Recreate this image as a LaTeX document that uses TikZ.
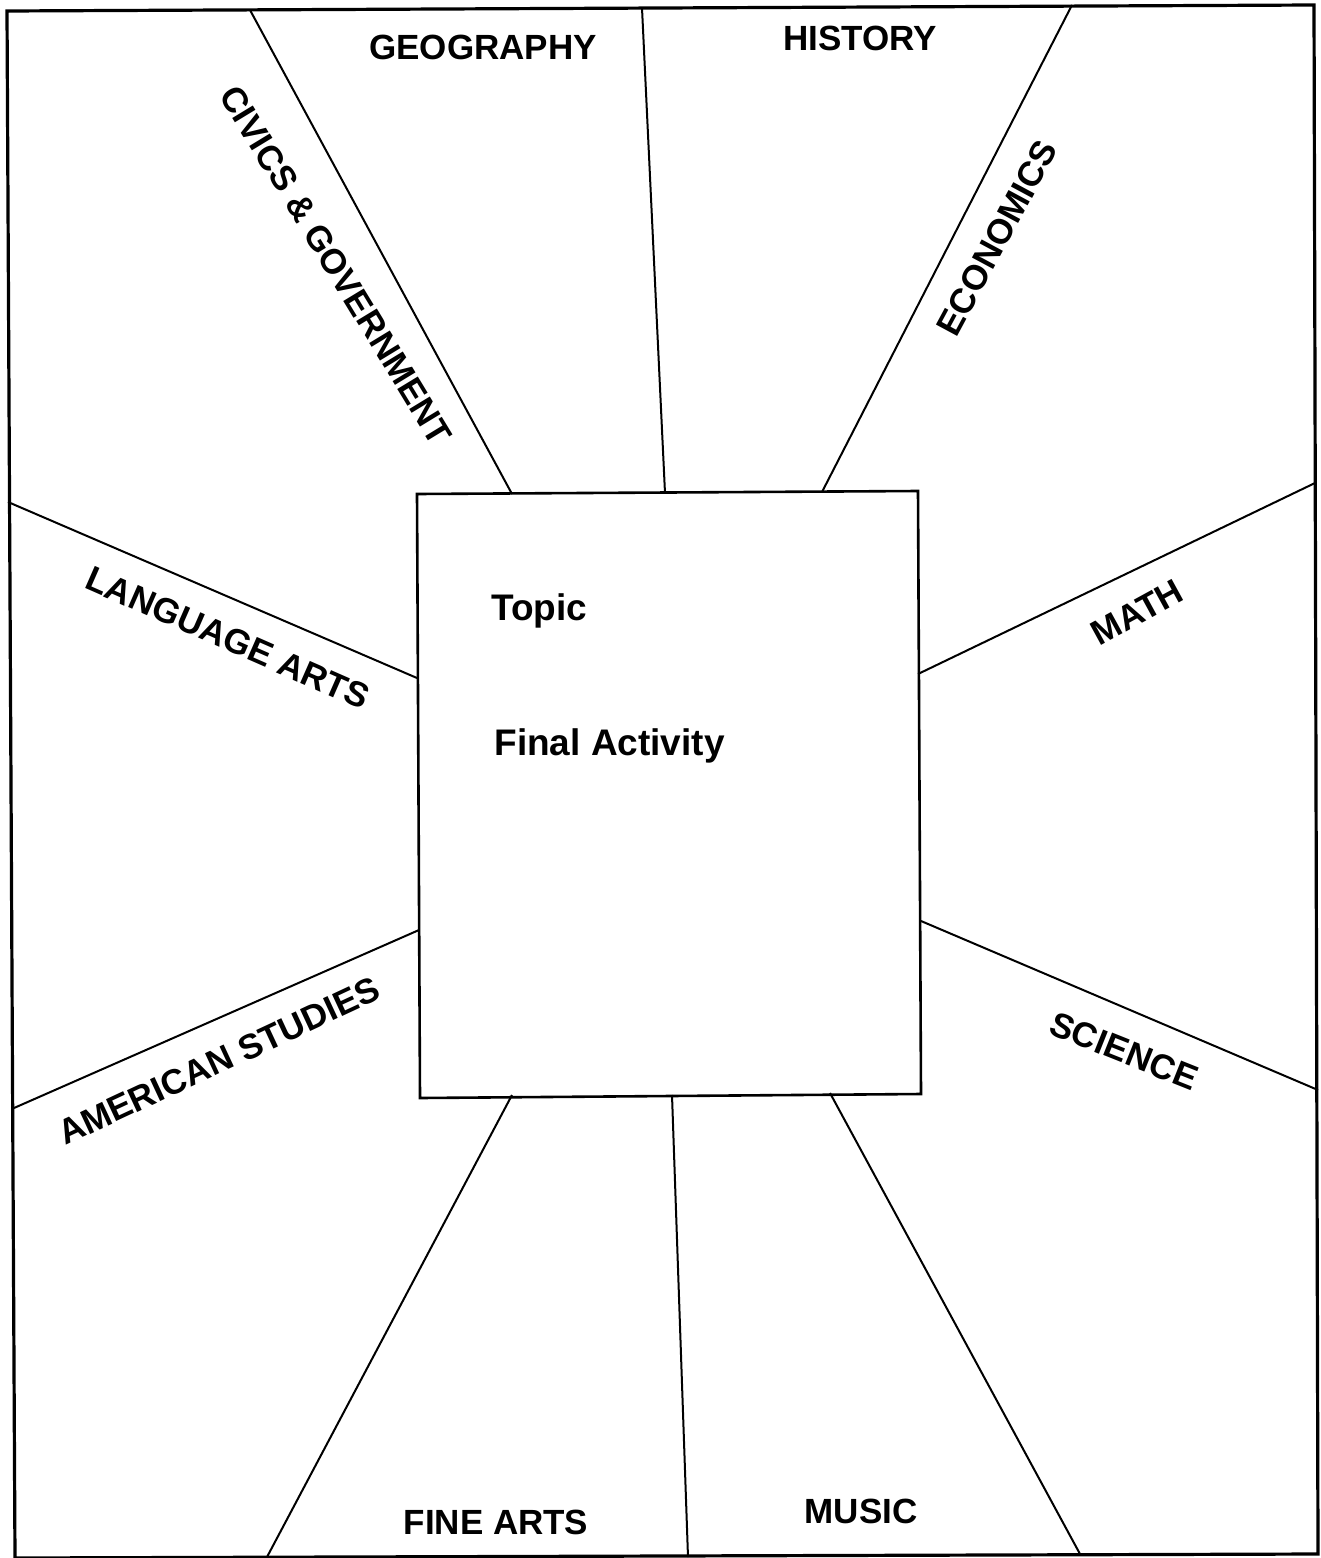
\documentclass[tikz,border=0pt]{standalone}
\usepackage{fontspec}
\setmainfont{Liberation Sans}
\begin{document}
\begin{tikzpicture}[x=0.5pt,y=-0.5pt,
  lbl/.style={font=\fontsize{17.5}{20}\selectfont\bfseries, inner sep=0pt},
  ctext/.style={font=\fontsize{18.5}{22}\selectfont\bfseries, inner sep=0pt, anchor=west},
  spoke/.style={line width=1pt},
  frame/.style={line width=1.6pt},
  boxs/.style={line width=1.3pt}]
\useasboundingbox (0,0) rectangle (1321,1558);
% outer frame
\coordinate (f1) at (7,11);
\coordinate (f2) at (1314,5);
\coordinate (f3) at (1318,1554);
\coordinate (f4) at (15,1558);
\draw[frame] (f1) -- (f2) -- (f3) -- (f4) -- cycle;
% center box
\coordinate (b1) at (417,494);
\coordinate (b2) at (918,491);
\coordinate (b3) at (921,1094);
\coordinate (b4) at (420,1098);
\draw[boxs] (b1) -- (b2) -- (b3) -- (b4) -- cycle;
% spoke end points
\coordinate (t1) at (250,10);   \coordinate (s1) at (512,494);
\coordinate (t2) at (642,8);    \coordinate (s2) at (665,493);
\coordinate (t3) at (1072,5);   \coordinate (s3) at (822,492);
\coordinate (l1) at (8,502);    \coordinate (s4) at (417,678);
\coordinate (r1) at (1315,483); \coordinate (s5) at (918,674);
\coordinate (l2) at (14,1108);  \coordinate (s6) at (419,930);
\coordinate (r2) at (1318,1090);\coordinate (s7) at (921,921);
\coordinate (d1) at (267,1557); \coordinate (s8) at (512,1095);
\coordinate (d2) at (688,1557); \coordinate (s9) at (672,1095);
\coordinate (d3) at (1080,1554);\coordinate (s10) at (830,1093);
\draw[spoke] (t1) -- (s1);
\draw[spoke] (t2) -- (s2);
\draw[spoke] (t3) -- (s3);
\draw[spoke] (l1) -- (s4);
\draw[spoke] (r1) -- (s5);
\draw[spoke] (l2) -- (s6);
\draw[spoke] (r2) -- (s7);
\draw[spoke] (d1) -- (s8);
\draw[spoke] (d2) -- (s9);
\draw[spoke] (d3) -- (s10);
% labels
\node[lbl] (geo) at (483,47) {GEOGRAPHY};
\node[lbl] (his) at (860,38) {HISTORY};
\node[lbl, rotate=-58.7] (civ) at (336,265) {CIVICS \& GOVERNMENT};
\node[lbl, rotate=61.7] (eco) at (997,238) {ECONOMICS};
\node[lbl, rotate=-23.7] (lang) at (228,638) {LANGUAGE ARTS};
\node[lbl, rotate=28.7] (math) at (1137,612) {MATH};
\node[lbl, rotate=25] (amer) at (219,1061) {AMERICAN STUDIES};
\node[lbl, rotate=-21.8] (sci) at (1124,1051) {SCIENCE};
\node[lbl] (fine) at (496,1522) {FINE ARTS};
\node[lbl] (mus) at (861,1511) {MUSIC};
\node[ctext] (topic) at (491,611) {Topic};
\node[ctext] (final) at (494,746) {Final Activity};
\end{tikzpicture}
\end{document}
